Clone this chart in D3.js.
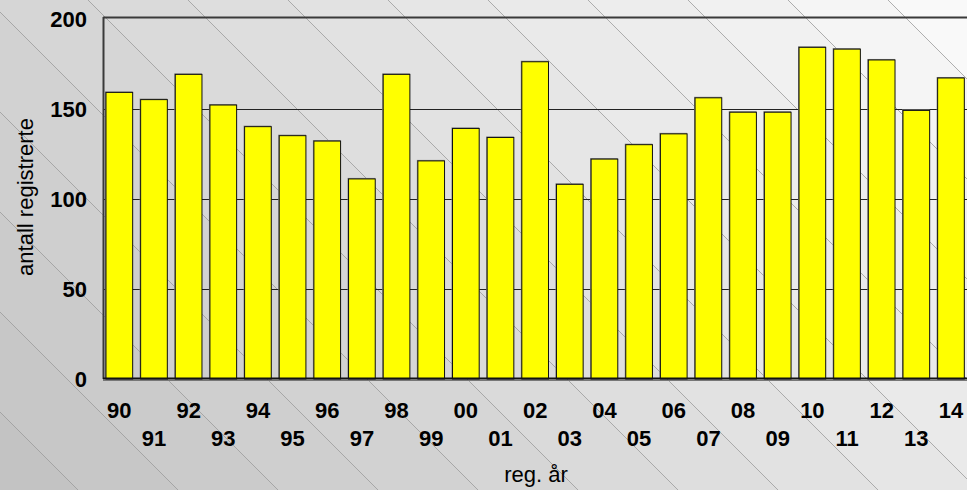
<!DOCTYPE html>
<html>
<head>
<meta charset="utf-8">
<script src="https://cdn.jsdelivr.net/npm/d3@7"></script>
<style>
  html, body { margin: 0; padding: 0; background: #d0d0d0; }
  svg { display: block; }
  text { font-family: "Liberation Sans", Arial, sans-serif; }
</style>
</head>
<body>
<svg id="chart" width="967" height="490"></svg>
<script>
const years = ["90","91","92","93","94","95","96","97","98","99","00","01","02","03","04","05","06","07","08","09","10","11","12","13","14"];
const counts = [159,155,169,152,140,135,132,111,169,121,139,134,176,108,122,130,136,156,148,148,184,183,177,149,167];
const yTicks = [0,50,100,150,200];
const xTitle = "reg. år";
const yTitle = "antall registrerte";

const W = 967, H = 490;
const svg = d3.select("#chart");

// ---- background: stepped diagonal gradient with thin diagonal lines ----
const defs = svg.append("defs");
const grad = defs.append("linearGradient")
  .attr("id", "bg")
  .attr("gradientUnits", "userSpaceOnUse")
  .attr("x1", -250).attr("y1", 250)   // d = x - y = -500
  .attr("x2", 500).attr("y2", -500);  // d = 1000
const dMin = -500, dMax = 1000;
const off = d => (d - dMin) / (dMax - dMin);
const grayAt = d => {
  const v = Math.round(0xC3 + Math.max(0, Math.min(1, (d + 462) / 1400)) * (0xF9 - 0xC3));
  return `rgb(${v},${v},${v})`;
};
const bounds = d3.range(-612, 1100, 100); // band boundaries in x - y
let prev = dMin;
bounds.forEach(b => {
  if (b <= dMin) return;
  const e = Math.min(b, dMax);
  const c = grayAt((prev + e) / 2);
  grad.append("stop").attr("offset", off(prev)).attr("stop-color", c);
  grad.append("stop").attr("offset", off(e)).attr("stop-color", c);
  prev = e;
});
svg.append("rect").attr("width", W).attr("height", H).attr("fill", "url(#bg)");

const lineG = svg.append("g");
bounds.forEach(b => {
  lineG.append("line")
    .attr("x1", b).attr("y1", 0)
    .attr("x2", b + H).attr("y2", H)
    .attr("stroke", "#9a9a9a").attr("stroke-width", 0.8);
});

// ---- scales ----
const plot = { left: 102, right: 968.3, top: 18.5, bottom: 379 };
const x = d3.scaleBand().domain(years).range([plot.left, plot.right])
  .paddingInner(0.23).paddingOuter(0.115);
const y = d3.scaleLinear().domain([0, 200]).range([plot.bottom, plot.top]);

// ---- gridlines ----
svg.append("g").selectAll("line").data(yTicks.filter(t => t > 0 && t < 200)).join("line")
  .attr("x1", 103.5).attr("x2", W)
  .attr("y1", d => Math.round(y(d)) + 0.5).attr("y2", d => Math.round(y(d)) + 0.5)
  .attr("stroke", "#222").attr("stroke-width", 1);

// plot frame (top and left)
svg.append("line").attr("x1", 103).attr("x2", W).attr("y1", 17.5).attr("y2", 17.5)
  .attr("stroke", "#3a3a3a").attr("stroke-width", 2);
svg.append("line").attr("x1", 103.5).attr("x2", 103.5).attr("y1", 17).attr("y2", 379)
  .attr("stroke", "#3a3a3a").attr("stroke-width", 2);

// ---- bars ----
const barG = svg.append("g");
barG.selectAll("rect.sh").data(counts).join("rect")
  .attr("class", "sh")
  .attr("x", (d, i) => x(years[i]) - 0.5)
  .attr("y", d => y(d) - 0.5)
  .attr("width", x.bandwidth())
  .attr("height", d => y(0) - y(d))
  .attr("fill", "none").attr("stroke", "#808080").attr("stroke-width", 1);
barG.selectAll("rect.bar").data(counts).join("rect")
  .attr("class", "bar")
  .attr("x", (d, i) => x(years[i]))
  .attr("y", d => y(d))
  .attr("width", x.bandwidth())
  .attr("height", d => y(0) - y(d))
  .attr("fill", "#ffff00").attr("stroke", "#111").attr("stroke-width", 1);

// bottom axis line
svg.append("line").attr("x1", 103).attr("x2", W).attr("y1", 378.5).attr("y2", 378.5)
  .attr("stroke", "#111").attr("stroke-width", 2);
svg.append("line").attr("x1", 103).attr("x2", W).attr("y1", 380.5).attr("y2", 380.5)
  .attr("stroke", "#777").attr("stroke-width", 1);

// ---- axes ----
const yAxis = svg.append("g").attr("transform", "translate(103,0)")
  .call(d3.axisLeft(y).tickValues(yTicks).tickSize(0).tickPadding(16));
yAxis.select(".domain").remove();
yAxis.selectAll("text")
  .attr("font-family", "'Liberation Sans', Arial, sans-serif")
  .attr("font-size", 22).attr("font-weight", "bold").attr("fill", "#000")
  .attr("dy", "0.36em");

const xAxis = svg.append("g").attr("transform", `translate(0,${plot.bottom})`)
  .call(d3.axisBottom(x).tickSize(0).tickPadding(0));
xAxis.select(".domain").remove();
xAxis.selectAll("text")
  .attr("font-family", "'Liberation Sans', Arial, sans-serif")
  .attr("font-size", 22).attr("font-weight", "bold").attr("fill", "#000")
  .attr("y", (d, i) => i % 2 === 0 ? 31.5 : 59)
  .attr("dy", "0.36em");

// ---- titles ----
svg.append("text")
  .attr("x", 536).attr("y", 482)
  .attr("text-anchor", "middle")
  .attr("font-size", 22).attr("fill", "#000")
  .text(xTitle);
svg.append("text")
  .attr("transform", "translate(33,197) rotate(-90)")
  .attr("text-anchor", "middle")
  .attr("font-size", 22).attr("fill", "#000")
  .text(yTitle);
</script>
</body>
</html>
